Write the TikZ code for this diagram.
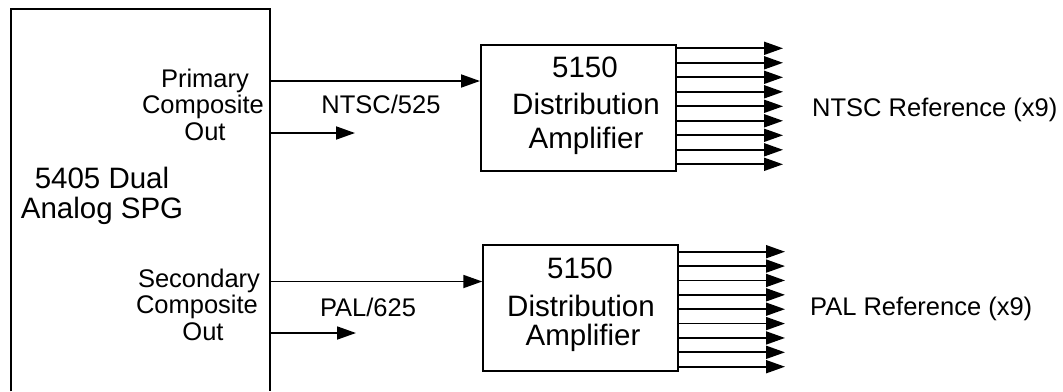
\documentclass[tikz,border=0pt]{standalone}
\usepackage{fontspec}
\setmainfont{Liberation Sans}
\usetikzlibrary{arrows.meta}
\begin{document}
\begin{tikzpicture}[x=1pt,y=-1pt,
  boxline/.style={line width=1.9pt},
  dabox/.style={draw, line width=1.9pt, inner sep=0pt, anchor=north west,
    minimum width=195pt, minimum height=125.5pt},
  sig/.style={line width=1.8pt, -{Triangle[length=19pt,width=13pt]}},
  bigtxt/.style={font=\fontsize{29.5}{34}\selectfont, anchor=base, inner sep=0pt},
  smalltxt/.style={font=\fontsize{25.5}{30}\selectfont, anchor=base, inner sep=0pt}]
\useasboundingbox (0,0) rectangle (1063,391);

% SPG box (bottom edge lies beyond the picture)
\node[draw=none, inner sep=0pt, minimum width=259pt, minimum height=382pt,
  anchor=north west] (spg) at (11,9) {};
\draw[boxline] (spg.south west) |- (spg.north east) -- (spg.south east);

\node[bigtxt] (spg1) at (102,188) {5405 Dual};
\node[bigtxt] (spg2) at (102,218) {Analog SPG};

\node[smalltxt] (p1) at (205,87.3) {Primary};
\node[smalltxt] (p2) at (203,113.8) {Composite};
\node[smalltxt] (p3) at (205,140.3) {Out};

\node[smalltxt] (s1) at (199,287.3) {Secondary};
\node[smalltxt] (s2) at (197,313.8) {Composite};
\node[smalltxt] (s3) at (203,340.3) {Out};

% distribution amplifiers
\node[dabox] (da1) at (480,44.3) {};
\node[dabox] (da2) at (482.3,244.3) {};

\node[bigtxt] (d11) at (585,77) {5150};
\node[bigtxt] (d12) at (586,114.5) {Distribution};
\node[bigtxt] (d13) at (586,148.3) {Amplifier};

\node[bigtxt] (d21) at (580,278.3) {5150};
\node[bigtxt] (d22) at (581,316.5) {Distribution};
\node[bigtxt] (d23) at (583,345) {Amplifier};

% inputs
\draw[sig] (spg.east |- 0,81) -- (da1.west |- 0,81);
\coordinate (n1end) at (355,133);
\draw[sig] (spg.east |- n1end) -- (n1end);
\node[smalltxt] (ntsc) at (381,113.3) {NTSC/525};

\draw[sig] (spg.east |- 0,281.5) -- (da2.west |- 0,281.5);
\coordinate (n2end) at (356,333);
\draw[sig] (spg.east |- n2end) -- (n2end);
\node[smalltxt] (pal) at (368,316) {PAL/625};

% outputs
\foreach \i in {0,...,8} {
  \coordinate (oa\i) at (783,{48.3+14.5*\i});
  \draw[sig] (da1.east |- oa\i) -- (oa\i);
  \coordinate (ob\i) at (785,{251.7+14.375*\i});
  \draw[sig] (da2.east |- ob\i) -- (ob\i);
}

\node[smalltxt, anchor=base west] (ntscref) at (812,116.7) {NTSC Reference (x9)};
\node[smalltxt, anchor=base west] (palref) at (810,315) {PAL Reference (x9)};
\end{tikzpicture}
\end{document}
